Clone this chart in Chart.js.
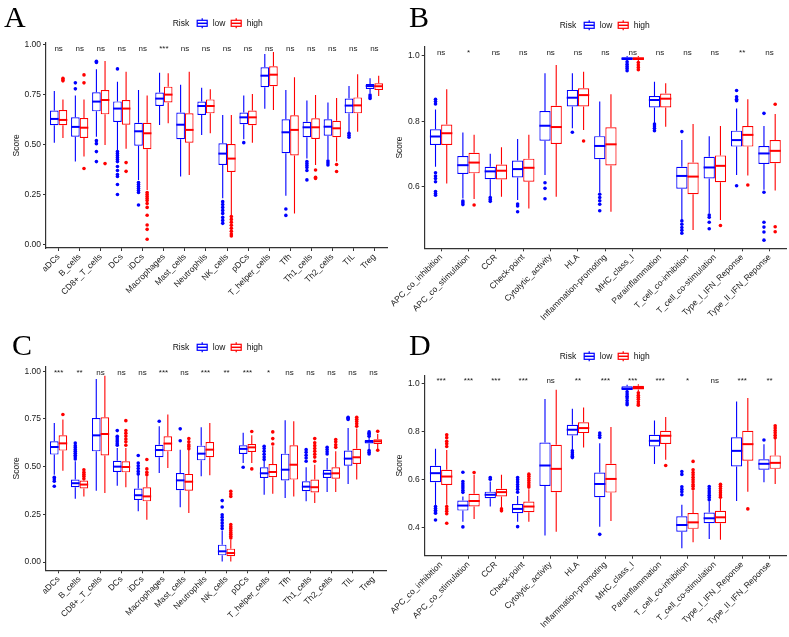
<!DOCTYPE html>
<html>
<head>
<meta charset="utf-8">
<script src="https://cdn.jsdelivr.net/npm/chart.js@4.4.1/dist/chart.umd.min.js"></script>
<style>
  body { margin: 0; background: #fff; width: 789px; height: 637px; position: relative; overflow: hidden; }
  canvas { position: absolute; }
  .tag { position: absolute; font: 30px/30px "Liberation Serif", serif; color: #000; }
</style>
</head>
<body>
<canvas id="chartA"></canvas>
<canvas id="chartB"></canvas>
<canvas id="chartC"></canvas>
<canvas id="chartD"></canvas>
<div class="tag" style="left:4px;top:2px">A</div>
<div class="tag" style="left:409px;top:2px">B</div>
<div class="tag" style="left:12px;top:330px">C</div>
<div class="tag" style="left:409px;top:330px">D</div>
<script>
// categories
const cellTypes = ['aDCs', 'B_cells', 'CD8+_T_cells', 'DCs', 'iDCs', 'Macrophages', 'Mast_cells', 'Neutrophils',
  'NK_cells', 'pDCs', 'T_helper_cells', 'Tfh', 'Th1_cells', 'Th2_cells', 'TIL', 'Treg'];
const immuneFunctions = ['APC_co_inhibition', 'APC_co_stimulation', 'CCR', 'Check-point', 'Cytolytic_activity', 'HLA',
  'Inflammation-promoting', 'MHC_class_I', 'Parainflammation', 'T_cell_co-inhibition', 'T_cell_co-stimulation',
  'Type_I_IFN_Reponse', 'Type_II_IFN_Reponse'];

// tick labels
const cellTicks = [0, 0.25, 0.5, 0.75, 1.0];
const funcTicksB = [0.6, 0.8, 1.0];
const funcTicksD = [0.4, 0.6, 0.8, 1.0];

// box stats: [lower whisker, q1, median, q3, upper whisker]
// panel A
const lowA = [
  [0.510, 0.597, 0.629, 0.671, 0.769], [0.416, 0.540, 0.589, 0.637, 0.746], [0.540, 0.667, 0.716, 0.763, 0.878],
  [0.473, 0.614, 0.681, 0.717, 0.816], [0.323, 0.495, 0.567, 0.610, 0.774], [0.599, 0.694, 0.731, 0.761, 0.861],
  [0.340, 0.527, 0.600, 0.661, 0.800], [0.548, 0.649, 0.694, 0.716, 0.786], [0.231, 0.398, 0.455, 0.507, 0.649],
  [0.527, 0.602, 0.637, 0.661, 0.746], [0.680, 0.788, 0.846, 0.888, 0.955], [0.244, 0.457, 0.562, 0.627, 0.774],
  [0.430, 0.537, 0.587, 0.615, 0.721], [0.426, 0.545, 0.590, 0.627, 0.711], [0.560, 0.657, 0.696, 0.731, 0.794],
  [0.758, 0.779, 0.794, 0.804, 0.833]
];
const highA = [
  [0.533, 0.597, 0.624, 0.674, 0.727], [0.440, 0.533, 0.585, 0.634, 0.727], [0.498, 0.652, 0.724, 0.774, 0.920],
  [0.480, 0.600, 0.681, 0.724, 0.866], [0.273, 0.477, 0.557, 0.610, 0.747], [0.607, 0.712, 0.751, 0.791, 0.858],
  [0.348, 0.510, 0.574, 0.657, 0.866], [0.557, 0.657, 0.694, 0.727, 0.778], [0.142, 0.363, 0.430, 0.503, 0.649],
  [0.510, 0.597, 0.637, 0.671, 0.754], [0.674, 0.793, 0.851, 0.893, 0.965], [0.154, 0.446, 0.574, 0.647, 0.838],
  [0.398, 0.528, 0.587, 0.632, 0.749], [0.415, 0.537, 0.582, 0.620, 0.734], [0.565, 0.657, 0.697, 0.737, 0.853],
  [0.744, 0.774, 0.793, 0.808, 0.846]
];
const lowOutA = [
  [], [0.81, 0.78], [0.918, 0.912, 0.52, 0.505, 0.465, 0.415],
  [0.88, 0.465, 0.455, 0.445, 0.435, 0.425, 0.415, 0.39, 0.37, 0.35, 0.34, 0.30, 0.25],
  [0.31, 0.30, 0.29, 0.28, 0.27, 0.26, 0.197], [], [], [],
  [0.214, 0.20, 0.185, 0.17, 0.155, 0.135, 0.12, 0.105], [0.51], [], [0.177, 0.145],
  [0.415, 0.405, 0.395, 0.385, 0.37, 0.323], [0.418, 0.408, 0.398], [0.557, 0.547, 0.537], [0.749, 0.74, 0.732]
];
const highOutA = [
  [0.833, 0.825, 0.82], [0.85, 0.81, 0.38], [0.405], [0.41, 0.366],
  [0.26, 0.25, 0.24, 0.23, 0.22, 0.205, 0.185, 0.146, 0.097, 0.075, 0.025], [], [], [],
  [0.139, 0.125, 0.11, 0.095, 0.08, 0.065, 0.052, 0.042], [], [], [],
  [0.373, 0.336, 0.33], [0.40, 0.365], [], []
];
const sigA = ['ns', 'ns', 'ns', 'ns', 'ns', '***', 'ns', 'ns', 'ns', 'ns', 'ns', 'ns', 'ns', 'ns', 'ns', 'ns'];

// panel B
const lowB = [
  [0.660, 0.727, 0.753, 0.775, 0.836], [0.563, 0.638, 0.665, 0.693, 0.765], [0.568, 0.622, 0.646, 0.660, 0.700],
  [0.558, 0.627, 0.653, 0.679, 0.745], [0.635, 0.740, 0.786, 0.831, 0.947], [0.778, 0.845, 0.872, 0.896, 0.947],
  [0.581, 0.683, 0.724, 0.754, 0.860], [0.985, 0.988, 0.992, 0.996, 1.000], [0.793, 0.842, 0.865, 0.877, 0.921],
  [0.497, 0.593, 0.632, 0.660, 0.742], [0.517, 0.624, 0.658, 0.691, 0.754], [0.635, 0.722, 0.742, 0.771, 0.839],
  [0.590, 0.669, 0.701, 0.724, 0.785]
];
const highB = [
  [0.609, 0.727, 0.763, 0.790, 0.898], [0.561, 0.640, 0.673, 0.703, 0.758], [0.568, 0.621, 0.648, 0.667, 0.720],
  [0.532, 0.614, 0.657, 0.685, 0.758], [0.568, 0.730, 0.782, 0.847, 0.972], [0.773, 0.845, 0.880, 0.901, 0.952],
  [0.522, 0.664, 0.729, 0.781, 0.883], [0.985, 0.988, 0.992, 0.996, 1.000], [0.783, 0.842, 0.869, 0.885, 0.916],
  [0.466, 0.576, 0.630, 0.673, 0.791], [0.497, 0.613, 0.663, 0.695, 0.785], [0.633, 0.722, 0.758, 0.785, 0.867],
  [0.587, 0.671, 0.709, 0.742, 0.822]
];
const lowOutB = [
  [0.867, 0.86, 0.853, 0.642, 0.632, 0.624, 0.614, 0.584, 0.578, 0.573], [0.555, 0.55, 0.544], [0.566, 0.56, 0.554],
  [0.546, 0.54, 0.522], [0.611, 0.594, 0.562], [0.766], [0.576, 0.566, 0.556, 0.545, 0.525],
  [0.982, 0.975, 0.968, 0.962, 0.955], [0.791, 0.785, 0.778, 0.771], [0.768, 0.494, 0.484, 0.474, 0.465, 0.456],
  [0.512, 0.505, 0.49, 0.47], [0.894, 0.875, 0.867, 0.863, 0.602], [0.824, 0.582, 0.49, 0.475, 0.46, 0.435]
];
const highOutB = [
  [], [0.543], [], [], [], [0.739], [], [0.98, 0.972, 0.965, 0.958], [], [], [0.48], [0.604], [0.852, 0.476, 0.461]
];
const sigB = ['ns', '*', 'ns', 'ns', 'ns', 'ns', 'ns', 'ns', 'ns', 'ns', 'ns', '**', 'ns'];

// panel C
const lowC = [
  [0.458, 0.563, 0.603, 0.633, 0.729], [0.332, 0.392, 0.413, 0.432, 0.528], [0.374, 0.580, 0.664, 0.755, 0.960],
  [0.400, 0.472, 0.500, 0.531, 0.598], [0.266, 0.325, 0.350, 0.385, 0.458], [0.467, 0.549, 0.587, 0.615, 0.712],
  [0.287, 0.376, 0.428, 0.467, 0.589], [0.449, 0.533, 0.568, 0.610, 0.706], [0.003, 0.035, 0.056, 0.091, 0.164],
  [0.519, 0.566, 0.593, 0.612, 0.677], [0.353, 0.441, 0.465, 0.497, 0.530], [0.336, 0.427, 0.484, 0.568, 0.743],
  [0.318, 0.371, 0.395, 0.423, 0.497], [0.367, 0.441, 0.463, 0.484, 0.545], [0.409, 0.505, 0.542, 0.584, 0.703],
  [0.590, 0.621, 0.631, 0.640, 0.668]
];
const highC = [
  [0.479, 0.584, 0.622, 0.664, 0.747], [0.344, 0.385, 0.406, 0.427, 0.476], [0.362, 0.559, 0.671, 0.759, 0.977],
  [0.392, 0.470, 0.498, 0.528, 0.598], [0.222, 0.318, 0.344, 0.392, 0.449], [0.493, 0.580, 0.621, 0.659, 0.773],
  [0.257, 0.374, 0.421, 0.462, 0.589], [0.455, 0.549, 0.589, 0.629, 0.729], [0.003, 0.030, 0.047, 0.070, 0.117],
  [0.519, 0.577, 0.601, 0.619, 0.665], [0.358, 0.444, 0.472, 0.514, 0.607], [0.344, 0.432, 0.510, 0.612, 0.738],
  [0.309, 0.365, 0.392, 0.432, 0.510], [0.367, 0.437, 0.465, 0.497, 0.580], [0.432, 0.514, 0.549, 0.594, 0.700],
  [0.589, 0.619, 0.633, 0.643, 0.671]
];
const lowOutC = [
  [0.444, 0.435, 0.423, 0.397], [0.624, 0.61, 0.6, 0.59, 0.58, 0.57, 0.56, 0.55, 0.54], [],
  [0.689, 0.659, 0.65, 0.64, 0.63, 0.62, 0.612], [0.558, 0.519, 0.505, 0.49, 0.475, 0.462], [0.738],
  [0.698, 0.636], [], [0.322, 0.288, 0.248, 0.235, 0.22, 0.205, 0.19, 0.175], [0.497],
  [0.607, 0.595, 0.58, 0.565, 0.55, 0.537], [], [0.589, 0.575, 0.56, 0.545, 0.528],
  [0.601, 0.59, 0.578, 0.566], [0.759, 0.753, 0.747], [0.682, 0.675, 0.668, 0.659, 0.584, 0.575, 0.566]
];
const highOutC = [
  [0.773], [0.483, 0.47, 0.46, 0.45, 0.437], [], [0.741, 0.689, 0.675, 0.66, 0.645, 0.63, 0.612],
  [0.537, 0.488, 0.47, 0.458], [], [0.647, 0.63, 0.615, 0.605, 0.594], [],
  [0.371, 0.357, 0.344, 0.196, 0.185, 0.175, 0.165, 0.155, 0.145, 0.135, 0.126], [0.684, 0.488],
  [0.682, 0.647, 0.619], [], [0.647, 0.625, 0.61, 0.595, 0.58, 0.565, 0.55, 0.528],
  [0.642, 0.63, 0.615, 0.601], [0.759, 0.748, 0.737, 0.725, 0.712], [0.685, 0.586]
];
const sigC = ['***', '**', 'ns', 'ns', 'ns', '***', 'ns', '***', '**', '***', '*', 'ns', 'ns', 'ns', 'ns', 'ns'];

// panel D
const lowD = [
  [0.492, 0.589, 0.627, 0.658, 0.729], [0.425, 0.471, 0.492, 0.513, 0.530], [0.488, 0.523, 0.537, 0.550, 0.592],
  [0.425, 0.460, 0.478, 0.498, 0.532], [0.367, 0.574, 0.659, 0.755, 0.936], [0.724, 0.784, 0.808, 0.829, 0.896],
  [0.404, 0.527, 0.582, 0.630, 0.752], [0.970, 0.974, 0.980, 0.989, 0.996], [0.665, 0.738, 0.762, 0.787, 0.847],
  [0.314, 0.383, 0.411, 0.447, 0.495], [0.353, 0.418, 0.439, 0.463, 0.510], [0.511, 0.655, 0.720, 0.777, 0.926],
  [0.589, 0.641, 0.666, 0.685, 0.748]
];
const highD = [
  [0.495, 0.578, 0.613, 0.641, 0.724], [0.436, 0.488, 0.511, 0.541, 0.620], [0.481, 0.530, 0.548, 0.562, 0.620],
  [0.425, 0.464, 0.488, 0.509, 0.560], [0.383, 0.548, 0.645, 0.745, 0.975], [0.734, 0.794, 0.815, 0.839, 0.901],
  [0.428, 0.546, 0.603, 0.666, 0.819], [0.970, 0.976, 0.982, 0.991, 0.998], [0.683, 0.749, 0.783, 0.804, 0.861],
  [0.339, 0.395, 0.422, 0.461, 0.555], [0.349, 0.418, 0.443, 0.470, 0.520], [0.550, 0.679, 0.748, 0.804, 0.940],
  [0.582, 0.645, 0.670, 0.701, 0.770]
];
const lowOutD = [
  [0.488, 0.48, 0.472, 0.465, 0.46, 0.432], [0.631, 0.592, 0.583, 0.574, 0.565, 0.556, 0.547, 0.403], [0.609, 0.602],
  [0.609, 0.6, 0.59, 0.58, 0.57, 0.56, 0.548, 0.404], [], [0.72, 0.712, 0.704, 0.698, 0.692],
  [0.794, 0.785, 0.776, 0.372], [0.966, 0.957, 0.948, 0.94, 0.93, 0.92, 0.912], [],
  [0.634, 0.622, 0.57, 0.56, 0.55, 0.537], [0.571, 0.562, 0.553, 0.544, 0.535, 0.526, 0.516], [], [0.765]
];
const highOutD = [
  [0.787, 0.775, 0.76, 0.75, 0.738, 0.488, 0.478, 0.468, 0.458, 0.418], [0.63], [0.478, 0.47],
  [0.623, 0.614, 0.605, 0.596, 0.587, 0.578, 0.569], [], [], [], [0.962, 0.952, 0.944, 0.935, 0.925, 0.915, 0.91],
  [0.659], [0.676, 0.641, 0.63, 0.62, 0.61, 0.6, 0.59, 0.58, 0.572, 0.562],
  [0.581, 0.572, 0.563, 0.554, 0.545, 0.536, 0.527], [0.478], [0.825, 0.815, 0.805, 0.795, 0.785, 0.775]
];
const sigD = ['***', '***', '***', '***', 'ns', '**', '***', '***', '***', '*', 'ns', '***', '**'];

const BLUE = '#0000ff';
const RED = '#ff0000';
const AXIS = '#333333';
const TEXT = '#1a1a1a';
const FONT = '"Liberation Sans", Arial, sans-serif';

function keyIcon(ctx, x, y, color) {
  ctx.strokeStyle = color;
  ctx.lineWidth = 1.2;
  ctx.strokeRect(x + 0.5, y - 3, 10, 6);
  ctx.beginPath();
  ctx.moveTo(x + 5.5, y - 5); ctx.lineTo(x + 5.5, y - 3);
  ctx.moveTo(x + 5.5, y + 3); ctx.lineTo(x + 5.5, y + 5);
  ctx.stroke();
  ctx.lineWidth = 1.5;
  ctx.beginPath();
  ctx.moveTo(x + 0.5, y); ctx.lineTo(x + 10.5, y);
  ctx.stroke();
}

function makePanel(id, p) {
  const canvas = document.getElementById(id);
  canvas.width = p.box.w;
  canvas.height = p.box.h;
  canvas.style.left = p.box.left + 'px';
  canvas.style.top = p.box.top + 'px';

  const partsPlugin = {
    id: 'boxParts',
    afterDatasetsDraw(chart) {
      const ctx = chart.ctx, ys = chart.scales.y;
      chart.data.datasets.forEach((ds, di) => {
        const meta = chart.getDatasetMeta(di);
        ctx.save();
        ctx.strokeStyle = ds.borderColor;
        ctx.fillStyle = ds.borderColor;
        meta.data.forEach((bar, i) => {
          const s = p.stats[di][i], x = bar.x, half = bar.width / 2;
          ctx.lineWidth = 1.1;
          ctx.beginPath();
          ctx.moveTo(x, ys.getPixelForValue(s[3])); ctx.lineTo(x, ys.getPixelForValue(s[4]));
          ctx.moveTo(x, ys.getPixelForValue(s[1])); ctx.lineTo(x, ys.getPixelForValue(s[0]));
          ctx.stroke();
          ctx.lineWidth = 2;
          const ym = ys.getPixelForValue(s[2]);
          ctx.beginPath();
          ctx.moveTo(x - half, ym); ctx.lineTo(x + half, ym);
          ctx.stroke();
          p.outliers[di][i].forEach(v => {
            ctx.beginPath();
            ctx.arc(x, ys.getPixelForValue(v), 1.8, 0, Math.PI * 2);
            ctx.fill();
          });
        });
        ctx.restore();
      });
    }
  };

  const extrasPlugin = {
    id: 'panelExtras',
    afterDraw(chart) {
      const ctx = chart.ctx, xs = chart.scales.x, ys = chart.scales.y;
      ctx.save();
      // significance labels
      ctx.font = '8px ' + FONT;
      ctx.fillStyle = TEXT;
      ctx.textAlign = 'center';
      ctx.textBaseline = 'alphabetic';
      p.sig.forEach((t, i) => ctx.fillText(t, xs.getPixelForValue(i), ys.getPixelForValue(p.sigY)));
      // legend
      const lx = p.legend.x - p.box.left, ly = p.legend.y - p.box.top;
      ctx.font = '8.5px ' + FONT;
      ctx.fillStyle = '#111';
      ctx.textAlign = 'left';
      ctx.textBaseline = 'middle';
      ctx.fillText('Risk', lx, ly);
      keyIcon(ctx, lx + 24, ly, BLUE);
      ctx.fillText('low', lx + 40, ly);
      keyIcon(ctx, lx + 58, ly, RED);
      ctx.fillText('high', lx + 74, ly);
      ctx.restore();
    }
  };

  const n = p.labels.length;
  return new Chart(canvas, {
    type: 'bar',
    data: {
      datasets: [
        { label: 'low', data: p.stats[0].map((s, i) => ({ x: i, y: [s[1], s[3]] })),
          borderColor: BLUE, backgroundColor: '#ffffff', borderWidth: 1.2, borderSkipped: false,
          categoryPercentage: 0.82, barPercentage: 1 },
        { label: 'high', data: p.stats[1].map((s, i) => ({ x: i, y: [s[1], s[3]] })),
          borderColor: RED, backgroundColor: '#ffffff', borderWidth: 1.2, borderSkipped: false,
          categoryPercentage: 0.82, barPercentage: 1 }
      ]
    },
    options: {
      responsive: false,
      animation: false,
      layout: { padding: { left: 0, bottom: 0, top: p.area.t - p.box.top, right: p.box.left + p.box.w - p.area.r } },
      plugins: { legend: { display: false }, tooltip: { enabled: false } },
      scales: {
        x: {
          type: 'linear', offset: false, min: -0.6, max: n - 0.4,
          grid: { display: true, offset: false, drawOnChartArea: false, drawTicks: true, tickLength: 3, color: AXIS },
          border: { display: true, color: AXIS, width: 1.2 },
          ticks: { autoSkip: false, minRotation: 45, maxRotation: 45, padding: 1, color: TEXT,
            font: { family: FONT, size: 8.5 }, callback: v => p.labels[v] },
          afterBuildTicks: s => { s.ticks = p.labels.map((_, i) => ({ value: i })); },
          afterFit: s => { s.height = p.box.top + p.box.h - p.area.b; s.paddingLeft = 0; s.paddingRight = 0; }
        },
        y: {
          min: p.yMin, max: p.yMax,
          grid: { display: true, drawOnChartArea: false, drawTicks: true, tickLength: 3, color: AXIS },
          border: { display: true, color: AXIS, width: 1.2 },
          ticks: { padding: 2, color: TEXT, font: { family: FONT, size: 8.5 }, callback: v => v.toFixed(p.digits) },
          afterBuildTicks: s => { s.ticks = p.ticks.map(v => ({ value: v })); },
          title: { display: true, text: 'Score', color: TEXT, font: { family: FONT, size: 8.5 },
            padding: { top: p.titleX - p.box.left - 5.1, bottom: 0 } },
          afterFit: s => { s.width = p.area.l - p.box.left; s.paddingTop = 0; s.paddingBottom = 0; }
        }
      }
    },
    plugins: [partsPlugin, extrasPlugin]
  });
}

makePanel('chartA', {
  box: { left: 0, top: 0, w: 394, h: 318 }, area: { l: 46, r: 387, t: 42.7, b: 248 },
  yMin: -0.0186, yMax: 1.0115, ticks: cellTicks, digits: 2, labels: cellTypes,
  stats: [lowA, highA], outliers: [lowOutA, highOutA], sig: sigA, sigY: 0.968,
  legend: { x: 172.7, y: 23.3 }, titleX: 17
});
makePanel('chartB', {
  box: { left: 384, top: 0, w: 405, h: 345 }, area: { l: 424.7, r: 786, t: 46.7, b: 248.3 },
  yMin: 0.41, yMax: 1.0285, ticks: funcTicksB, digits: 1, labels: immuneFunctions,
  stats: [lowB, highB], outliers: [lowOutB, highOutB], sig: sigB, sigY: 1.004,
  legend: { x: 559.7, y: 25.3 }, titleX: 400
});
makePanel('chartC', {
  box: { left: 0, top: 318, w: 394, h: 319 }, area: { l: 46, r: 386, t: 366.3, b: 570.3 },
  yMin: -0.0435, yMax: 1.026, ticks: cellTicks, digits: 2, labels: cellTypes,
  stats: [lowC, highC], outliers: [lowOutC, highOutC], sig: sigC, sigY: 0.981,
  legend: { x: 172.7, y: 347.3 }, titleX: 17
});
makePanel('chartD', {
  box: { left: 384, top: 318, w: 405, h: 319 }, area: { l: 424.7, r: 786, t: 375.3, b: 555.7 },
  yMin: 0.283, yMax: 1.035, ticks: funcTicksD, digits: 1, labels: immuneFunctions,
  stats: [lowD, highD], outliers: [lowOutD, highOutD], sig: sigD, sigY: 1.002,
  legend: { x: 559.7, y: 356.3 }, titleX: 400
});
</script>
</body>
</html>
